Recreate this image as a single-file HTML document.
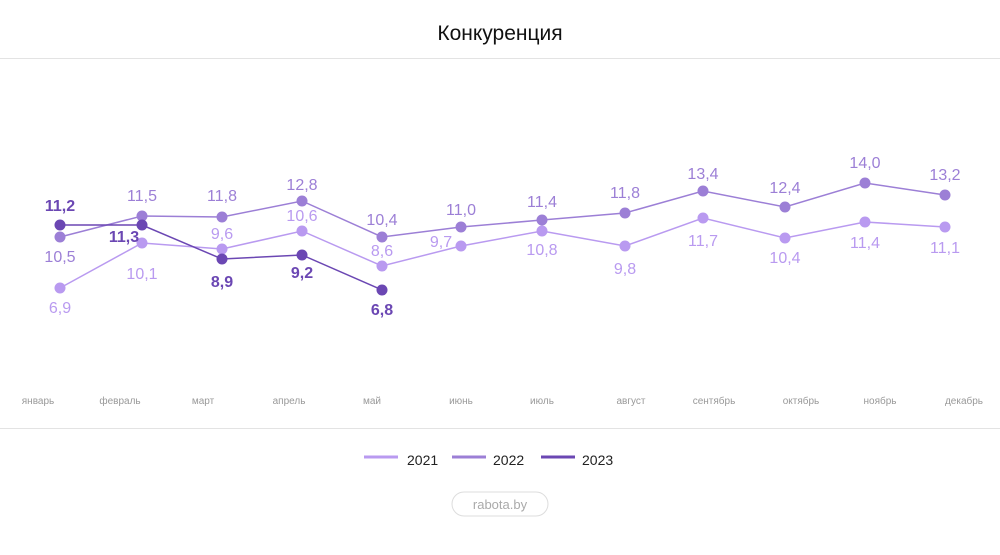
<!DOCTYPE html>
<html><head><meta charset="utf-8"><style>
body{margin:0;background:#fff;width:1000px;height:550px;overflow:hidden;font-family:"Liberation Sans",sans-serif}
</style></head><body>
<svg width="1000" height="550" xmlns="http://www.w3.org/2000/svg" font-family="Liberation Sans, sans-serif">
<text x="500" y="40" text-anchor="middle" font-size="21" fill="#111">Конкуренция</text>
<line x1="0" y1="58.5" x2="1000" y2="58.5" stroke="#e3e3e3"/>
<line x1="0" y1="428.5" x2="1000" y2="428.5" stroke="#e3e3e3"/>
<g font-size="10" fill="#999" text-anchor="middle">
<text x="38" y="404">январь</text><text x="120" y="404">февраль</text><text x="203" y="404">март</text><text x="289" y="404">апрель</text><text x="372" y="404">май</text><text x="461" y="404">июнь</text><text x="542" y="404">июль</text><text x="631" y="404">август</text><text x="714" y="404">сентябрь</text><text x="801" y="404">октябрь</text><text x="880" y="404">ноябрь</text><text x="964" y="404">декабрь</text>
</g>
<g fill="none" stroke-width="1.5">
<polyline stroke="#b99af0" points="60,288 142,243 222,249 302,231 382,266 461,246 542,231 625,246 703,218 785,238 865,222 945,227"/>
<polyline stroke="#9c7fd6" points="60,237 142,216 222,217 302,201 382,237 461,227 542,220 625,213 703,191 785,207 865,183 945,195"/>
<polyline stroke="#6b47b3" points="60,225 142,225 222,259 302,255 382,290"/>
</g>
<g fill="#b99af0"><circle cx="60" cy="288" r="5.5"/><circle cx="142" cy="243" r="5.5"/><circle cx="222" cy="249" r="5.5"/><circle cx="302" cy="231" r="5.5"/><circle cx="382" cy="266" r="5.5"/><circle cx="461" cy="246" r="5.5"/><circle cx="542" cy="231" r="5.5"/><circle cx="625" cy="246" r="5.5"/><circle cx="703" cy="218" r="5.5"/><circle cx="785" cy="238" r="5.5"/><circle cx="865" cy="222" r="5.5"/><circle cx="945" cy="227" r="5.5"/></g>
<g fill="#9c7fd6"><circle cx="60" cy="237" r="5.5"/><circle cx="142" cy="216" r="5.5"/><circle cx="222" cy="217" r="5.5"/><circle cx="302" cy="201" r="5.5"/><circle cx="382" cy="237" r="5.5"/><circle cx="461" cy="227" r="5.5"/><circle cx="542" cy="220" r="5.5"/><circle cx="625" cy="213" r="5.5"/><circle cx="703" cy="191" r="5.5"/><circle cx="785" cy="207" r="5.5"/><circle cx="865" cy="183" r="5.5"/><circle cx="945" cy="195" r="5.5"/></g>
<g fill="#6b47b3"><circle cx="60" cy="225" r="5.5"/><circle cx="142" cy="225" r="5.5"/><circle cx="222" cy="259" r="5.5"/><circle cx="302" cy="255" r="5.5"/><circle cx="382" cy="290" r="5.5"/></g>
<g font-size="16" text-anchor="middle" fill="#b99af0">
<text x="60" y="313">6,9</text><text x="142" y="279">10,1</text><text x="222" y="239">9,6</text><text x="302" y="221">10,6</text><text x="382" y="256">8,6</text><text x="441" y="247">9,7</text><text x="542" y="255">10,8</text><text x="625" y="274">9,8</text><text x="703" y="246">11,7</text><text x="785" y="263">10,4</text><text x="865" y="248">11,4</text><text x="945" y="253">11,1</text>
</g>
<g font-size="16" text-anchor="middle" fill="#9c7fd6">
<text x="60" y="262">10,5</text><text x="142" y="201">11,5</text><text x="222" y="201">11,8</text><text x="302" y="190">12,8</text><text x="382" y="225">10,4</text><text x="461" y="215">11,0</text><text x="542" y="207">11,4</text><text x="625" y="198">11,8</text><text x="703" y="179">13,4</text><text x="785" y="193">12,4</text><text x="865" y="168">14,0</text><text x="945" y="180">13,2</text>
</g>
<g font-size="16" font-weight="bold" text-anchor="middle" fill="#6b47b3">
<text x="60" y="211">11,2</text><text x="124" y="242">11,3</text><text x="222" y="287">8,9</text><text x="302" y="278">9,2</text><text x="382" y="315">6,8</text>
</g>
<g stroke-width="3">
<line x1="364" y1="457" x2="398" y2="457" stroke="#b99af0"/>
<line x1="452" y1="457" x2="486" y2="457" stroke="#9c7fd6"/>
<line x1="541" y1="457" x2="575" y2="457" stroke="#6b47b3"/>
</g>
<g font-size="14" fill="#222"><text x="407" y="465">2021</text><text x="493" y="465">2022</text><text x="582" y="465">2023</text></g>
<rect x="452" y="492" width="96" height="24" rx="12" fill="#fff" stroke="#ddd"/>
<text x="500" y="509" text-anchor="middle" font-size="13" fill="#aaa">rabota.by</text>
</svg>
</body></html>
